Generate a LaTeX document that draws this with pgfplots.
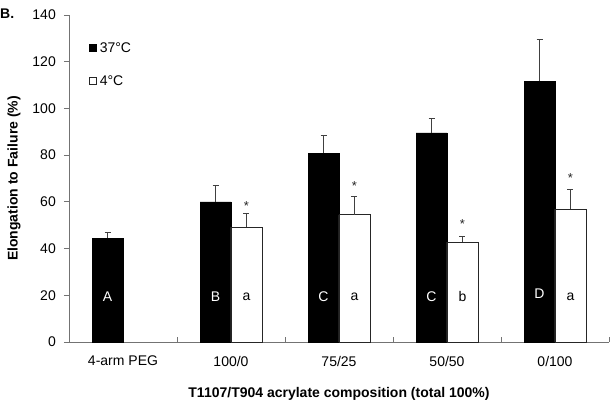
\documentclass[border=0pt]{standalone}
\usepackage{pgfplots}
\pgfplotsset{compat=1.18}
\usepackage{fontspec}
\setmainfont{Liberation Sans}

\newcommand{\fs}{\fontsize{14}{16}\selectfont}

\begin{document}
\begin{tikzpicture}
\begin{axis}[
    scale only axis,
    width=540pt, height=327pt,
    xmin=-0.5, xmax=4.5,
    ymin=0, ymax=140,
    clip=false,
    axis x line=bottom, axis y line=left,
    axis line style={-, black!55, line width=0.8pt},
    xtick={0,1,2,3,4},
    xticklabels={4-arm PEG, 100/0, 75/25, 50/50, 0/100},
    major x tick style={draw=none},
    minor xtick={0.5,1.5,2.5,3.5,4.5},
    minor tick length=5pt,
    major tick length=5pt,
    tick align=outside,
    minor x tick style={yshift=5pt, black!55, line width=0.8pt},
    major y tick style={black!55, line width=0.8pt},
    ytick={0,20,...,140},
    /pgf/number format/assume math mode=true,
    tick label style={font=\fs},
    xticklabel style={inner sep=0pt, anchor=north, yshift=-9pt},
    yticklabel style={inner sep=0pt, anchor=east, xshift=-8pt},
    ylabel={Elongation to Failure (\%)},
    xlabel={T1107/T904 acrylate composition (total 100\%)},
    every axis y label/.style={at={(axis description cs:-0.102,0.5)}, rotate=90, anchor=center, font=\bfseries\fs},
    every axis x label/.style={at={(axis description cs:0.5,-0.159)}, anchor=center, font=\bfseries\fs},
    legend style={at={(axis description cs:0.037,0.915)}, anchor=north west,
        draw=none, fill=none, inner sep=0pt, row sep=23pt, column sep=3pt, font=\fs,
        nodes={inner sep=0pt, text height=10pt, text depth=0pt}},
    legend cell align=left,
    legend image code/.code={\draw[#1, line width=0.6pt] (0pt,-3pt) rectangle (7pt,4pt);},
]
% 37 C
\addplot[ybar, bar width=31pt, bar shift=0pt, fill=black, draw=black,
    error bars/.cd, y dir=plus, y explicit,
    error bar style={line width=1pt, black!75},
    error mark options={rotate=90, mark size=3pt, line width=1pt, black!75}]
coordinates {(-0.1435,44.5) +- (0,2.2) (0.8565,60.0) +- (0,6.8) (1.8565,80.9) +- (0,7.7) (2.8565,89.5) +- (0,6.4) (3.8565,111.7) +- (0,18.0)};
\addlegendentry{37°C}
% 4 C
\addplot[ybar, bar width=31pt, bar shift=0pt, fill=white, draw=black!85, line width=0.9pt,
    error bars/.cd, y dir=plus, y explicit,
    error bar style={line width=1pt, black!75},
    error mark options={rotate=90, mark size=3pt, line width=1pt, black!75}]
coordinates {(1.1435,49.2) +- (0,6.0) (2.1435,54.4) +- (0,8.1) (3.1435,42.8) +- (0,2.2) (4.1435,56.9) +- (0,8.6)};
\addlegendentry{4°C}
% group letters on the 37 C bars
\addplot[only marks, mark=none, forget plot, point meta=explicit symbolic,
    nodes near coords, nodes near coords style={anchor=center, text=white, font=\fs, inner sep=0pt}]
coordinates {(-0.1435,19.5)[A] (0.8565,19.5)[B] (1.8565,19.5)[C] (2.8565,19.5)[C] (3.8565,20.5)[D]};
% group letters on the 4 C bars
\addplot[only marks, mark=none, forget plot, point meta=explicit symbolic,
    nodes near coords, nodes near coords style={anchor=center, text=black, font=\fs, inner sep=0pt}]
coordinates {(1.1435,19.5)[a] (2.1435,19.5)[a] (3.1435,19.5)[b] (4.1435,19.5)[a]};
% significance stars
\addplot[only marks, mark=none, forget plot, point meta=explicit symbolic,
    nodes near coords, nodes near coords style={anchor=center, text=black!85, font=\fontsize{13}{15}\selectfont, inner sep=0pt, yshift=-3pt}]
coordinates {(1.1435,59.5)[*] (2.1435,68.1)[*] (3.1435,51.8)[*] (4.1435,71.5)[*]};
\node[anchor=west, inner sep=0pt, font=\bfseries\fs] at (axis description cs:-0.1278,1.003) {B.};
\end{axis}
\path (current axis.south west) ++(-69pt,-65pt) rectangle ++(615pt,407pt);
\end{tikzpicture}
\end{document}
